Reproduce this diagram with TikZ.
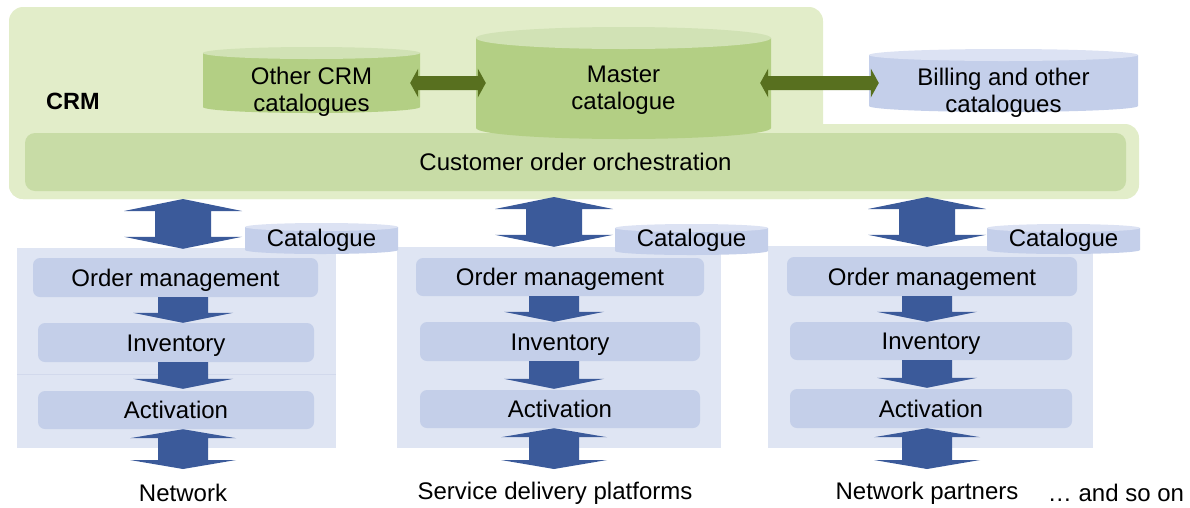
\documentclass[tikz,border=0pt]{standalone}
\usepackage{fontspec}
\setmainfont{Liberation Sans}
\usetikzlibrary{calc}
\definecolor{crmbg}{HTML}{E2EDC9}
\definecolor{orchc}{HTML}{C8DCA6}
\definecolor{greencyl}{HTML}{B3CF84}
\definecolor{greenarr}{HTML}{58701F}
\definecolor{bluecyl}{HTML}{C4CFEA}
\definecolor{colbox}{HTML}{DFE5F3}
\definecolor{innerbox}{HTML}{C4CFE9}
\definecolor{arrblue}{HTML}{3B5A9A}
\definecolor{faintline}{HTML}{D2D9EC}
\tikzset{
  txt/.style={font=\fontsize{24}{27}\selectfont, text=black, inner sep=0pt, align=center},
  ibox/.style={fill=innerbox, draw=none, rounded corners=7, inner sep=0pt, font=\fontsize{24}{27}\selectfont,
               text height=20pt, text depth=3pt},
}
% cylinder: name, x1, x2, ytop, ybot, ry, colour, text, text y
\newcommand\mycyl[9]{%
  \fill[#7] (#2,{#4+#6}) -- (#2,{#5-#6}) arc[start angle=180,end angle=0,x radius={(#3-#2)/2},y radius=#6] -- (#3,{#4+#6}) -- cycle;
  \fill[#7!60!white] ({(#2+#3)/2},{#4+#6}) ellipse[x radius={(#3-#2)/2}, y radius=#6];
  \node[inner sep=0pt, minimum width={(#3-#2)*1pt}, minimum height={(#5-#4)*1pt}] (#1) at ({(#2+#3)/2},{(#4+#5)/2}) {};
  \node[txt] (#1-t) at ({(#2+#3)/2},#9) {#8};
}
% vertical double arrow: top, bottom, half shaft, half head, head length
\newcommand\vdarrow[5]{%
  \fill[arrblue] let \p1=#1, \p2=#2 in
    (\x1,\y1) -- (\x1+#4pt,\y1-#5pt) -- (\x1+#3pt,\y1-#5pt) -- (\x1+#3pt,\y2+#5pt) -- (\x1+#4pt,\y2+#5pt)
    -- (\x1,\y2) -- (\x1-#4pt,\y2+#5pt) -- (\x1-#3pt,\y2+#5pt) -- (\x1-#3pt,\y1-#5pt) -- (\x1-#4pt,\y1-#5pt) -- cycle;
}
% vertical single arrow down
\newcommand\vsarrow[5]{%
  \fill[arrblue] let \p1=#1, \p2=#2 in
    (\x1-#3pt,\y1) -- (\x1+#3pt,\y1) -- (\x1+#3pt,\y2+#5pt) -- (\x1+#4pt,\y2+#5pt) -- (\x1,\y2)
    -- (\x1-#4pt,\y2+#5pt) -- (\x1-#3pt,\y2+#5pt) -- cycle;
}
% horizontal double arrow
\newcommand\hdarrow[5]{%
  \fill[greenarr] let \p1=#1, \p2=#2 in
    (\x1,\y1) -- (\x1+#5pt,\y1+#4pt) -- (\x1+#5pt,\y1+#3pt) -- (\x2-#5pt,\y1+#3pt) -- (\x2-#5pt,\y1+#4pt)
    -- (\x2,\y1) -- (\x2-#5pt,\y1-#4pt) -- (\x2-#5pt,\y1-#3pt) -- (\x1+#5pt,\y1-#3pt) -- (\x1+#5pt,\y1-#4pt) -- cycle;
}
\begin{document}
\begin{tikzpicture}[x=1pt,y=-1pt]
\useasboundingbox (0,0) rectangle (1190,507);
% CRM region
\fill[crmbg, rounded corners=14] (9,7) rectangle (823,199);
\fill[crmbg, rounded corners=14] (9,124) rectangle (1139,199);
\node[font=\fontsize{23.5}{27}\selectfont\bfseries, inner sep=0pt] (crm) at (73,101) {CRM};
\node[fill=orchc, rounded corners=10, inner sep=0pt, minimum width=1101pt, minimum height=58pt,
      font=\fontsize{24}{27}\selectfont, text height=20pt, text depth=3pt] (orch) at (575.5,162) {Customer order orchestration};
\coordinate (crmb1) at (183,199);
\coordinate (crmb2) at (554,197);
\coordinate (crmb3) at (927,197);

% catalogues
\mycyl{other}{203}{420}{47}{113}{6}{greencyl}{Other CRM\\catalogues}{92}
\mycyl{master}{476}{771}{27}{139}{11}{greencyl}{Master\\catalogue}{90.5}
\mycyl{billing}{869}{1138}{49}{112}{6}{bluecyl}{Billing and other\\catalogues}{93}
\hdarrow{([xshift=-10]other.east |- master.west)}{([xshift=10]master.west)}{7}{14.5}{8}
\hdarrow{([xshift=-11]master.east)}{([xshift=10]billing.west |- master.east)}{7}{14.5}{8}

% column boxes
\fill[colbox] (17,248) rectangle (336,448);
\fill[colbox] (397,247) rectangle (721,448);
\fill[colbox] (768,246) rectangle (1093,448);
\draw[faintline, line width=0.8pt] (17,374) -- (336,374);

% inner boxes column 1
\node[ibox, minimum width=285pt, minimum height=39pt] (om1) at (175.5,277.5) {Order management};
\node[ibox, minimum width=276pt, minimum height=39pt] (inv1) at (176,342.5) {Inventory};
\node[ibox, minimum width=276pt, minimum height=38pt] (act1) at (176,410) {Activation};
% column 2
\node[ibox, minimum width=288pt, minimum height=38pt] (om2) at (560,277) {Order management};
\node[ibox, minimum width=280pt, minimum height=39pt] (inv2) at (560,341.5) {Inventory};
\node[ibox, minimum width=280pt, minimum height=38pt] (act2) at (560,409) {Activation};
% column 3
\node[ibox, minimum width=290pt, minimum height=39pt] (om3) at (932,276.5) {Order management};
\node[ibox, minimum width=282pt, minimum height=38pt] (inv3) at (931,341) {Inventory};
\node[ibox, minimum width=282pt, minimum height=39pt] (act3) at (931,408.5) {Activation};

% small catalogue cylinders
\mycyl{cat1}{245}{398}{223}{254}{4}{bluecyl}{Catalogue}{240.5}
\mycyl{cat2}{615}{768}{224}{255}{4}{bluecyl}{Catalogue}{240.5}
\mycyl{cat3}{987}{1140}{224}{254}{4}{bluecyl}{Catalogue}{240.5}

% bottom labels
\node[txt] (net) at (183,493) {Network};
\node[txt] (sdp) at (555,493) {Service delivery platforms};
\node[txt] (np) at (927,493) {Network partners};
\node[txt] (soon) at (1116,493) {… and so on};
\coordinate (b1) at (183,469);
\coordinate (b2) at (554,469);
\coordinate (b3) at (927,469);

% arrows column 1
\vdarrow{(crmb1)}{([yshift=9]om1.north -| crmb1)}{28}{59}{12}
\vsarrow{(om1.south -| crmb1)}{(inv1.north -| crmb1)}{25}{50}{10}
\vsarrow{(inv1.south -| crmb1)}{([yshift=2]act1.north -| crmb1)}{25}{50}{10}
\vdarrow{(act1.south -| crmb1)}{(b1)}{25}{53}{9}
% column 2
\vdarrow{(crmb2)}{([yshift=11]om2.north -| crmb2)}{28}{59}{12}
\vsarrow{(om2.south -| crmb2)}{(inv2.north -| crmb2)}{25}{50}{10}
\vsarrow{(inv2.south -| crmb2)}{([yshift=1]act2.north -| crmb2)}{25}{50}{10}
\vdarrow{(act2.south -| crmb2)}{(b2)}{25}{53}{9}
% column 3
\vdarrow{(crmb3)}{([yshift=10]om3.north -| crmb3)}{28}{59}{12}
\vsarrow{(om3.south -| crmb3)}{(inv3.north -| crmb3)}{25}{50}{10}
\vsarrow{(inv3.south -| crmb3)}{([yshift=1]act3.north -| crmb3)}{25}{50}{10}
\vdarrow{(act3.south -| crmb3)}{(b3)}{25}{53}{9}
\end{tikzpicture}
\end{document}
